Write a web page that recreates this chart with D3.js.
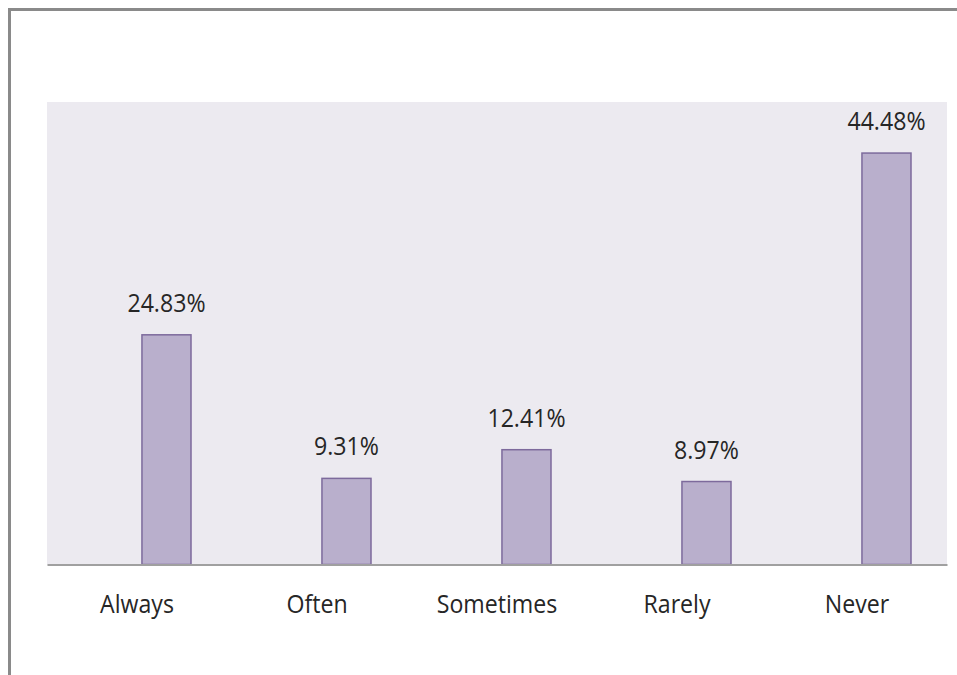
<!DOCTYPE html>
<html>
<head>
<meta charset="utf-8">
<script src="https://cdn.jsdelivr.net/npm/d3@7"></script>
<style>
  html, body { margin: 0; padding: 0; background: #ffffff; }
  svg { display: block; }
  text { font-family: "Open Sans", "Noto Sans", sans-serif; }
</style>
</head>
<body>
<svg id="chart" width="957" height="675"></svg>
<script>
const categories = ["Always", "Often", "Sometimes", "Rarely", "Never"];
const values = [24.83, 9.31, 12.41, 8.97, 44.48];
const valueLabels = ["24.83%", "9.31%", "12.41%", "8.97%", "44.48%"];
const yDomain = [0, 50];

const svg = d3.select("#chart");
const W = 957, H = 675;
const FONT = 26, SX = 0.89;

// outer border (extends past image right/bottom edge)
svg.append("rect")
  .attr("x", 9.5).attr("y", 9.5)
  .attr("width", W + 20).attr("height", H + 20)
  .attr("fill", "#ffffff")
  .attr("stroke", "#8a8a8a")
  .attr("stroke-width", 3);

const plot = { left: 47, right: 947, top: 102, bottom: 564.5 };

svg.append("rect")
  .attr("x", plot.left).attr("y", plot.top)
  .attr("width", plot.right - plot.left)
  .attr("height", plot.bottom - plot.top)
  .attr("fill", "#ECEAF0");

const x = d3.scaleBand().domain(categories).range([plot.left, plot.right]).padding(0);
// two slots per category (first one empty), as in the original clustered layout
const slots = ["empty", "value"];
const xs = d3.scaleBand().domain(slots)
  .range([x.bandwidth() * 0.255, x.bandwidth() * 0.8]).padding(0);
const y = d3.scaleLinear().domain(yDomain).range([plot.bottom, plot.top]);

const data = categories.map((c, i) => ({ c, v: values[i], label: valueLabels[i] }));

const g = svg.append("g");
g.selectAll("rect.bar").data(data).enter().append("rect")
  .attr("class", "bar")
  .attr("x", d => x(d.c) + xs("value"))
  .attr("y", d => y(d.v))
  .attr("width", xs.bandwidth())
  .attr("height", d => y(0) - y(d.v))
  .attr("fill", "#B9AFCC")
  .attr("stroke", "#7D6A9C")
  .attr("stroke-width", 1.5);

g.selectAll("text.val").data(data).enter().append("text")
  .attr("class", "val")
  .attr("transform", d => `translate(${x(d.c) + xs("value") + xs.bandwidth() / 2},${y(d.v) - 23}) scale(${SX},1)`)
  .attr("text-anchor", "middle")
  .attr("font-size", FONT)
  .attr("fill", "#262626")
  .text(d => d.label);

// baseline axis
const xAxis = d3.axisBottom(x).tickSize(0).tickPadding(0);
const ax = svg.append("g").attr("transform", `translate(0,${y(0)})`).call(xAxis);
ax.select(".domain").attr("stroke", "#A0A0A0").attr("stroke-width", 2);
ax.selectAll(".tick text")
  .attr("y", 0)
  .attr("dy", 0)
  .attr("transform", `translate(0,48) scale(${SX},1)`)
  .attr("font-size", FONT)
  .attr("font-family", "\"Open Sans\", \"Noto Sans\", sans-serif")
  .attr("fill", "#262626");
</script>
</body>
</html>
